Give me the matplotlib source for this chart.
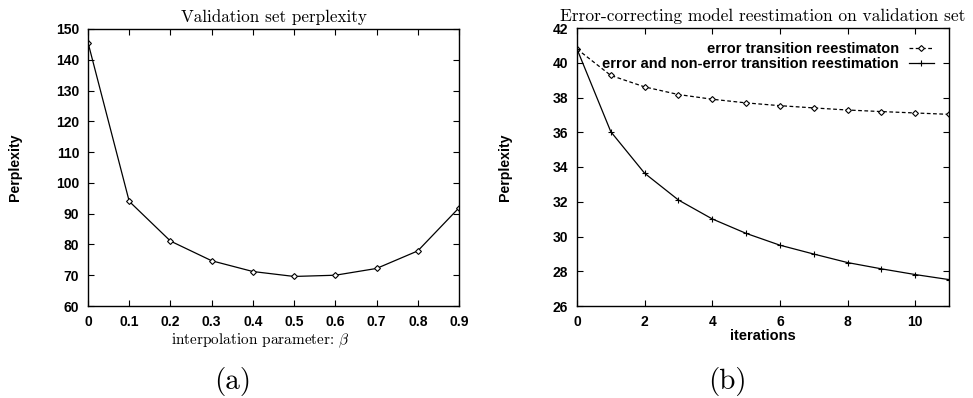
import matplotlib
matplotlib.use("Agg")
import matplotlib.pyplot as plt

plt.rcParams['mathtext.fontset'] = 'cm'

# Panel (a)
beta = [0, 0.1, 0.2, 0.3, 0.4, 0.5, 0.6, 0.7, 0.8, 0.9]
perp_a = [145.6, 94.0, 81.1, 74.7, 71.2, 69.6, 70.0, 72.2, 77.9, 91.9]
xticks_a = [0, 0.1, 0.2, 0.3, 0.4, 0.5, 0.6, 0.7, 0.8, 0.9]
xticklabels_a = ["0", "0.1", "0.2", "0.3", "0.4", "0.5", "0.6", "0.7", "0.8", "0.9"]
yticks_a = [60, 70, 80, 90, 100, 110, 120, 130, 140, 150]

# Panel (b)
iters = [0, 1, 2, 3, 4, 5, 6, 7, 8, 9, 10, 11]
err_only = [40.79, 39.27, 38.61, 38.17, 37.90, 37.69, 37.53, 37.40, 37.28, 37.19, 37.11, 37.03]
err_nonerr = [40.79, 36.03, 33.64, 32.10, 31.01, 30.18, 29.50, 28.99, 28.50, 28.14, 27.81, 27.52]
xticks_b = [0, 2, 4, 6, 8, 10]
yticks_b = [26, 28, 30, 32, 34, 36, 38, 40, 42]
label_err = "error transition reestimaton"
label_both = "error and non-error transition reestimation"

sans = "Liberation Sans"
serif = "cmr10"

fig = plt.figure(figsize=(9.73, 3.98), dpi=100)
ax1 = fig.add_axes([88/973, 1-306/398, 371/973, 277/398])
ax2 = fig.add_axes([577/973, 1-306/398, 372/973, 278/398])

def style(ax):
    ax.tick_params(direction='in', top=True, right=True, length=4, width=0.8,
                   labelsize=10, pad=6.3)
    for lab in ax.get_xticklabels() + ax.get_yticklabels():
        lab.set_fontfamily(sans)
        lab.set_fontweight('bold')
    for s in ax.spines.values():
        s.set_linewidth(1.0)

ax1.plot(beta, perp_a, color='black', lw=0.9, marker='D', ms=3,
         mfc='white', mec='black', mew=0.8)
ax1.set_xlim(0, 0.9)
ax1.set_ylim(60, 150)
ax1.set_xticks(xticks_a)
ax1.set_xticklabels(xticklabels_a)
ax1.set_yticks(yticks_a)
style(ax1)
ax1.set_title("Validation set perplexity", family=serif, fontsize=12.3, pad=5)
ax1.set_xlabel(r"interpolation parameter: $\beta$", family=serif, fontsize=11)
ax1.xaxis.set_label_coords(0.464, -0.092)
ax1.set_ylabel("Perplexity", family=sans, fontweight='bold', fontsize=10.2)
ax1.yaxis.set_label_coords(-(88 - 22) / 371, 0.5)

ax2.plot(iters, err_only, color='black', lw=0.9, ls=(0, (3, 2)), marker='D', ms=3,
         mfc='white', mec='black', mew=0.8, label=label_err)
ax2.plot(iters, err_nonerr, color='black', lw=0.9, marker='+', ms=5, mew=0.8,
         label=label_both)
ax2.set_xlim(0, 11)
ax2.set_ylim(26, 42)
ax2.set_xticks(xticks_b)
ax2.set_yticks(yticks_b)
style(ax2)
ax2.set_title("Error-correcting model reestimation on validation set", family=serif,
              fontsize=12.5, pad=5)
ax2.set_xlabel("iterations", family=sans, fontweight='bold', fontsize=10.5)
ax2.xaxis.set_label_coords(0.5, -0.083)
ax2.set_ylabel("Perplexity", family=sans, fontweight='bold', fontsize=10.2)
ax2.yaxis.set_label_coords(-(577 - 512) / 372, 0.5)
leg = ax2.legend(loc='upper right', frameon=False, markerfirst=False,
                 prop={'family': sans, 'weight': 'bold', 'size': 10.5},
                 handlelength=1.7, labelspacing=0.05, borderaxespad=0.0,
                 handletextpad=0.7, bbox_to_anchor=(0.975, 0.97))
for t in leg.get_texts():
    t.set_ha('right')

fig.text(233/973, 1-382/398, "(a)", family=serif, fontsize=21, ha='center', va='center')
fig.text(727/973, 1-382/398, "(b)", family=serif, fontsize=21, ha='center', va='center')

fig.savefig("out.png", dpi=100)
